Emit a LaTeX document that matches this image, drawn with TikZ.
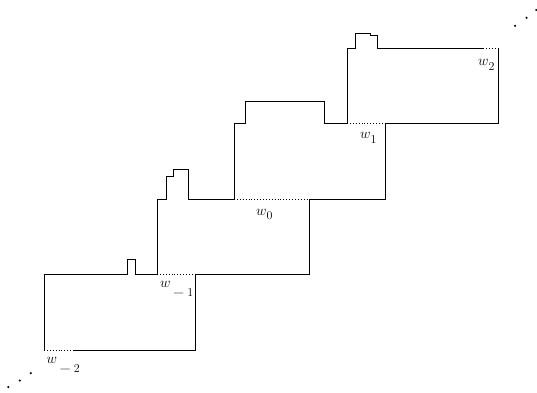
\documentclass[tikz,border=0pt]{standalone}
\newcommand\wlab[2]{\fontsize{14.5}{16}\selectfont$w$\lower#1\hbox{\fontsize{12}{14}\selectfont$#2$}}
\newcommand\wminus{\kern2pt\scalebox{1.3}[1]{$-$}\kern2.5pt}
\begin{document}
\begin{tikzpicture}[x=1pt,y=-1pt,
  wall/.style={line width=0.8pt,line join=miter},
  gap/.style={line width=0.7pt,dash pattern=on 0.7pt off 2.2pt},
  lab/.style={inner sep=0pt,anchor=base west},
  dotmark/.style={fill=black,draw=none}]
\useasboundingbox (0,0) rectangle (537,392);
% block -2
\draw[wall] (74,350) -- (195,350) -- (195,274);
\draw[wall] (157,274) -- (135,274) -- (135,259) -- (127,259) -- (127,274) -- (44,274) -- (44,350);
\draw[gap] (44,350) -- (74,350);
\draw[gap] (157,274) -- (195,274);
% block -1
\draw[wall] (195,274) -- (309,274) -- (309,199);
\draw[wall] (234,199) -- (188,199) -- (188,169) -- (173,169) -- (173,176) -- (166,176) -- (166,199) -- (157,199) -- (157,274);
\draw[gap] (234,199) -- (309,199);
% block 0
\draw[wall] (309,199) -- (385,199) -- (385,123);
\draw[wall] (347,123) -- (324,123) -- (324,101) -- (245,101) -- (245,123) -- (234,123) -- (234,199);
\draw[gap] (347,123) -- (385,123);
% block 1
\draw[wall] (385,123) -- (498,123) -- (498,48);
\draw[wall] (483,48) -- (377,48) -- (377,35) -- (370,35) -- (370,33) -- (355,33) -- (355,48) -- (347,48) -- (347,123);
\draw[gap] (483,48) -- (498,48);
% labels
\node[lab] (wm2) at (46.5,363) {\wlab{9pt}{\wminus 2}};
\node[lab] (wm1) at (160,287) {\wlab{9pt}{\wminus 1}};
\node[lab] (w0) at (256,215) {\wlab{4.5pt}{0}};
\node[lab] (w1) at (360,138.5) {\wlab{5pt}{1}};
\node[lab] (w2) at (478,65) {\wlab{5pt}{2}};
% dots
\fill[dotmark] (8.3,387) circle (1.2) (19.8,380.5) circle (1.2) (30.8,373.2) circle (1.2);
\fill[dotmark] (515,25.8) circle (1.2) (526.5,17.8) circle (1.2) (536.2,10) circle (1.2);
\end{tikzpicture}
\end{document}
